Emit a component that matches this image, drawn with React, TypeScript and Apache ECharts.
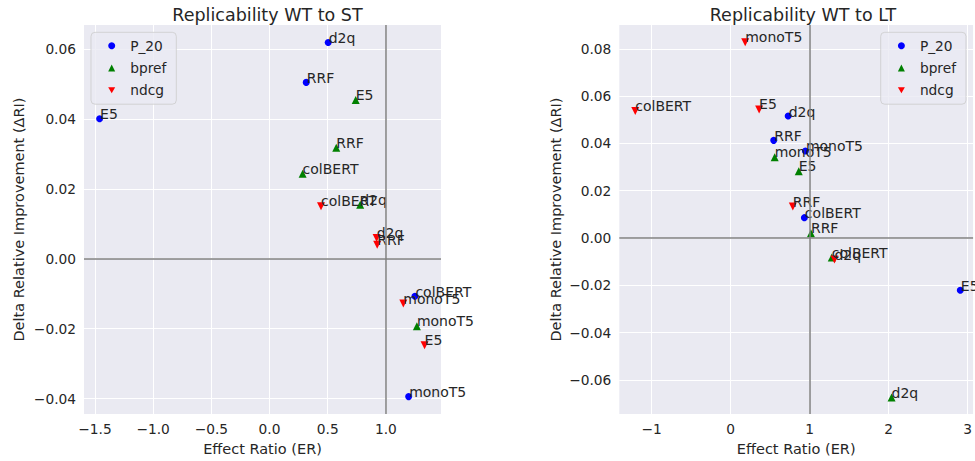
import React, { useEffect, useRef } from "react";
import * as echarts from "echarts";

// ---------- data: Replicability WT to ST (left) ----------
const stP20Names = ["d2q", "RRF", "E5", "colBERT", "monoT5"];
const stP20ER = [0.504, 0.315, -1.46, 1.249, 1.195];
const stP20DRI = [0.0618, 0.0504, 0.04, -0.0107, -0.0394];

const stBprefNames = ["E5", "RRF", "colBERT", "d2q", "monoT5"];
const stBprefER = [0.74, 0.573, 0.284, 0.779, 1.266];
const stBprefDRI = [0.0454, 0.0317, 0.0243, 0.0154, -0.0193];

const stNdcgNames = ["colBERT", "d2q", "RRF", "monoT5", "E5"];
const stNdcgER = [0.442, 0.92, 0.925, 1.149, 1.332];
const stNdcgDRI = [0.015, 0.0059, 0.004, -0.0128, -0.0247];

// ---------- data: Replicability WT to LT (right) ----------
const ltP20Names = ["d2q", "RRF", "monoT5", "colBERT", "E5"];
const ltP20ER = [0.728, 0.545, 0.946, 0.933, 2.907];
const ltP20DRI = [0.0516, 0.0413, 0.0368, 0.0086, -0.0221];

const ltBprefNames = ["monoT5", "E5", "RRF", "colBERT", "d2q"];
const ltBprefER = [0.557, 0.862, 1.016, 1.28, 2.037];
const ltBprefDRI = [0.0342, 0.0282, 0.002, -0.0083, -0.0675];

const ltNdcgNames = ["monoT5", "colBERT", "E5", "RRF", "d2q"];
const ltNdcgER = [0.184, -1.208, 0.36, 0.787, 1.314];
const ltNdcgDRI = [0.0828, 0.0537, 0.0544, 0.0133, -0.0091];

// ---------- ticks ----------
const stXTicks = [-1.5, -1.0, -0.5, 0.0, 0.5, 1.0];
const stYTicks = [-0.04, -0.02, 0.0, 0.02, 0.04, 0.06];
const ltXTicks = [-1, 0, 1, 2, 3];
const ltYTicks = [-0.06, -0.04, -0.02, 0.0, 0.02, 0.04, 0.06, 0.08];

const metricNames = ["P_20", "bpref", "ndcg"];
const metricColors = ["#0000ff", "#008000", "#ff0000"];
const TRI_DOWN = "path://M0,0L10,0L5,8.66Z";
const metricSymbols = ["circle", "triangle", TRI_DOWN];

const FONT = "DejaVu Sans";
const TXT = "#262626";

const fmt = (d: number) => (v: number) => {
  const s = Math.abs(v) < 1e-9 ? (0).toFixed(d) : v.toFixed(d);
  return s.replace("-", "\u2212");
};

function pts(names: string[], xs: number[], ys: number[]) {
  return names.map((n, i) => ({ name: n, value: [xs[i], ys[i]] }));
}

export default function App() {
  const ref = useRef<HTMLDivElement>(null);
  useEffect(() => {
    if (!ref.current) return;
    const chart = echarts.init(ref.current, null, { renderer: "svg" });

    const gridH = 390.7;
    const grids = [
      { left: 84, top: 25, width: 357, height: gridH, backgroundColor: "#EAEAF2", show: true, borderWidth: 0 },
      { left: 619.3, top: 25, width: 357, height: gridH, backgroundColor: "#EAEAF2", show: true, borderWidth: 0 },
    ];

    const axisCommon = {
      type: "value" as const,
      axisLine: { show: false },
      splitLine: { show: true, lineStyle: { color: "#ffffff", width: 1 } },
      nameTextStyle: { color: TXT, fontFamily: FONT, fontSize: 14.5 },
      nameLocation: "middle" as const,
    };

    const xAxes = [
      {
        ...axisCommon,
        gridIndex: 0,
        min: -1.594,
        max: 1.473,
        name: "Effect Ratio (ER)",
        nameGap: 26,
        axisTick: { show: false, customValues: stXTicks },
        axisLabel: { customValues: stXTicks, formatter: fmt(1), color: TXT, fontFamily: FONT, fontSize: 13.75, margin: 8 },
      },
      {
        ...axisCommon,
        gridIndex: 1,
        min: -1.41,
        max: 3.069,
        name: "Effect Ratio (ER)",
        nameGap: 26,
        axisTick: { show: false, customValues: ltXTicks },
        axisLabel: { customValues: ltXTicks, formatter: fmt(0), color: TXT, fontFamily: FONT, fontSize: 13.75, margin: 8 },
      },
    ];
    const yAxes = [
      {
        ...axisCommon,
        gridIndex: 0,
        min: -0.0444,
        max: 0.0668,
        name: "Delta Relative Improvement (\u0394RI)",
        nameGap: 58,
        axisTick: { show: false, customValues: stYTicks },
        axisLabel: { customValues: stYTicks, formatter: fmt(2), color: TXT, fontFamily: FONT, fontSize: 13.75, margin: 8 },
      },
      {
        ...axisCommon,
        gridIndex: 1,
        min: -0.0745,
        max: 0.0901,
        name: "Delta Relative Improvement (\u0394RI)",
        nameGap: 56,
        axisTick: { show: false, customValues: ltYTicks },
        axisLabel: { customValues: ltYTicks, formatter: fmt(2), color: TXT, fontFamily: FONT, fontSize: 13.75, margin: 8 },
      },
    ];

    const label = {
      show: true,
      formatter: "{b}",
      position: [4, 6],
      align: "left",
      verticalAlign: "bottom",
      color: TXT,
      fontFamily: FONT,
      fontSize: 14,
    };

    const refLineSeries = (idx: number) => ({
      type: "scatter",
      xAxisIndex: idx,
      yAxisIndex: idx,
      data: [],
      silent: true,
      z: 1,
      markLine: {
        silent: true,
        symbol: ["none", "none"],
        label: { show: false },
        lineStyle: { color: "#808080", width: 1.5, type: "solid", opacity: 1 },
        emphasis: { disabled: true },
        data: [{ xAxis: 1 }, { yAxis: 0 }],
      },
    });

    const scatter = (idx: number, m: number, data: any[]) => ({
      type: "scatter",
      name: metricNames[m],
      xAxisIndex: idx,
      yAxisIndex: idx,
      symbol: metricSymbols[m],
      symbolSize: m === 0 ? 7 : 8,
      itemStyle: { color: metricColors[m], opacity: 1 },
      label,
      z: 3,
      data,
    });

    const legendCommon = {
      orient: "vertical" as const,
      top: 32.3,
      itemWidth: 7,
      itemHeight: 7,
      itemGap: 6.2,
      padding: [5.5, 10, 6, 17.2],
      backgroundColor: "rgba(234,234,242,0.8)",
      borderColor: "rgba(204,204,204,0.8)",
      borderWidth: 1,
      borderRadius: 4,
      itemStyle: { opacity: 1 },
      textStyle: { color: TXT, fontFamily: FONT, fontSize: 13.75, lineHeight: 16, padding: [0, 0, 0, 10] },
      data: metricNames.map((n, i) => ({ name: n, icon: metricSymbols[i] })),
    };

    chart.setOption({
      animation: false,
      title: [
        { text: "Replicability WT to ST", left: 262.5, top: 1, textAlign: "center", textStyle: { color: TXT, fontFamily: FONT, fontSize: 17.5, fontWeight: "normal" } },
        { text: "Replicability WT to LT", left: 798, top: 1, textAlign: "center", textStyle: { color: TXT, fontFamily: FONT, fontSize: 17.5, fontWeight: "normal" } },
      ],
      legend: [
        { ...legendCommon, left: 91 },
        { ...legendCommon, left: 880.7 },
      ],
      grid: grids,
      xAxis: xAxes,
      yAxis: yAxes,
      series: [
        refLineSeries(0),
        refLineSeries(1),
        scatter(0, 0, pts(stP20Names, stP20ER, stP20DRI)),
        scatter(0, 1, pts(stBprefNames, stBprefER, stBprefDRI)),
        scatter(0, 2, pts(stNdcgNames, stNdcgER, stNdcgDRI)),
        scatter(1, 0, pts(ltP20Names, ltP20ER, ltP20DRI)),
        scatter(1, 1, pts(ltBprefNames, ltBprefER, ltBprefDRI)),
        scatter(1, 2, pts(ltNdcgNames, ltNdcgER, ltNdcgDRI)),
      ],
    });
    return () => chart.dispose();
  }, []);
  return (
    <div
      ref={ref}
      style={{ position: "fixed", left: 0, top: 0, width: 975, height: 461, background: "#ffffff" }}
    />
  );
}
